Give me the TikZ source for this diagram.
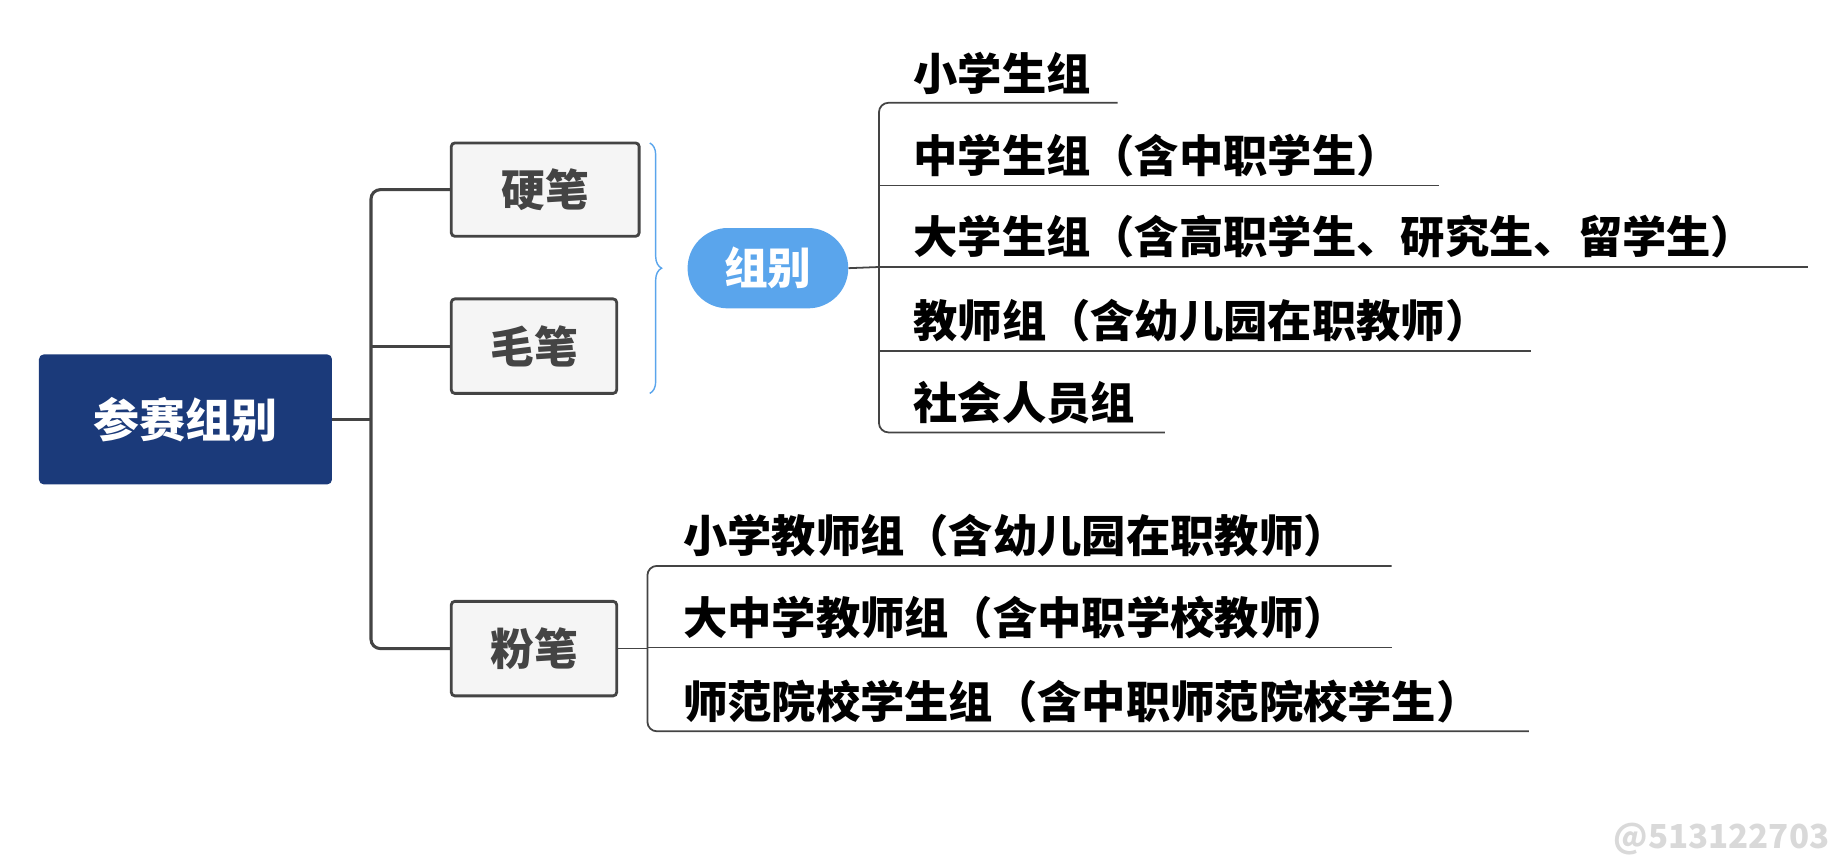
\documentclass[tikz,border=0pt]{standalone}
\usepackage{fontspec}
\setmainfont{Noto Sans CJK SC}
\usetikzlibrary{decorations.pathreplacing}
\definecolor{navy}{HTML}{1B3A7A}
\definecolor{pill}{HTML}{5AA5EC}
\definecolor{ln}{HTML}{444444}
\begin{document}
\begin{tikzpicture}[x=1pt,y=-1pt,
  conn/.style={draw=ln,line width=2.6pt,rounded corners=8pt},
  ul/.style={draw=ln,line width=1.5pt,rounded corners=8pt},
  pen/.style={draw=ln,line width=2.4pt,fill=gray!8,rounded corners=3pt,font=\fontsize{37}{42}\selectfont\bfseries,text=ln},
  lab/.style={anchor=south west,inner sep=0pt,font=\fontsize{37.5}{42}\selectfont\bfseries,yshift=7pt}]
\useasboundingbox (0,0) rectangle (1560,723);
\node[fill=navy,rounded corners=4pt,minimum width=248pt,minimum height=110pt,text=white,font=\fontsize{39}{44}\selectfont\bfseries] (root) at (157,355) {参赛组别};
\node[pen,minimum width=159pt,minimum height=79pt] (yb) at (461.5,160.5) {硬笔};
\node[pen,minimum width=140pt,minimum height=80pt] (mb) at (452,293) {毛笔};
\node[pen,minimum width=140pt,minimum height=80pt] (fb) at (452,549) {粉笔};
\node[fill=pill,rounded corners=34pt,minimum width=136pt,minimum height=68pt,text=white,font=\fontsize{37}{42}\selectfont\bfseries] (zb) at (650,227) {组别};
\draw[pill,line width=1.2pt,decorate,decoration={brace,amplitude=10pt}] (550,121) -- (550,333) coordinate[pos=0.5] (br);
\coordinate (t) at (314,355);
\draw[conn] (root.east) -- (t);
\draw[conn] (yb.west) -| (t) |- (fb.west);
\draw[conn] (mb.west) -- (mb.west -| t);
\coordinate (v1) at (744,226);
\draw[ul] (zb.east) -- (v1);
\draw[ul] (946,87) -- (744,87) -- (744,366) -- (986,366);
\draw[ul] (744,157) -- (1218,157);
\draw[ul] (744,226) -- (1530,226);
\draw[ul] (744,297) -- (1296,297);
\node[lab] (a1) at (773,87) {小学生组};
\node[lab] (a2) at (773,157) {中学生组（含中职学生）};
\node[lab] (a3) at (773,226) {大学生组（含高职学生、研究生、留学生）};
\node[lab] (a4) at (773,297) {教师组（含幼儿园在职教师）};
\node[lab] (a5) at (773,366) {社会人员组};
\draw[ul] (fb.east) -- (548,549);
\draw[ul] (1178,479) -- (548,479) -- (548,619) -- (1294,619);
\draw[ul] (548,548) -- (1178,548);
\node[lab] (b1) at (578,479) {小学教师组（含幼儿园在职教师）};
\node[lab] (b2) at (578,548) {大中学教师组（含中职学校教师）};
\node[lab] (b3) at (578,619) {师范院校学生组（含中职师范院校学生）};
\node[text=gray!30,font=\fontsize{28}{32}\selectfont\bfseries,anchor=east] (wm) at (1552,710) {@513122703};
\end{tikzpicture}
\end{document}
